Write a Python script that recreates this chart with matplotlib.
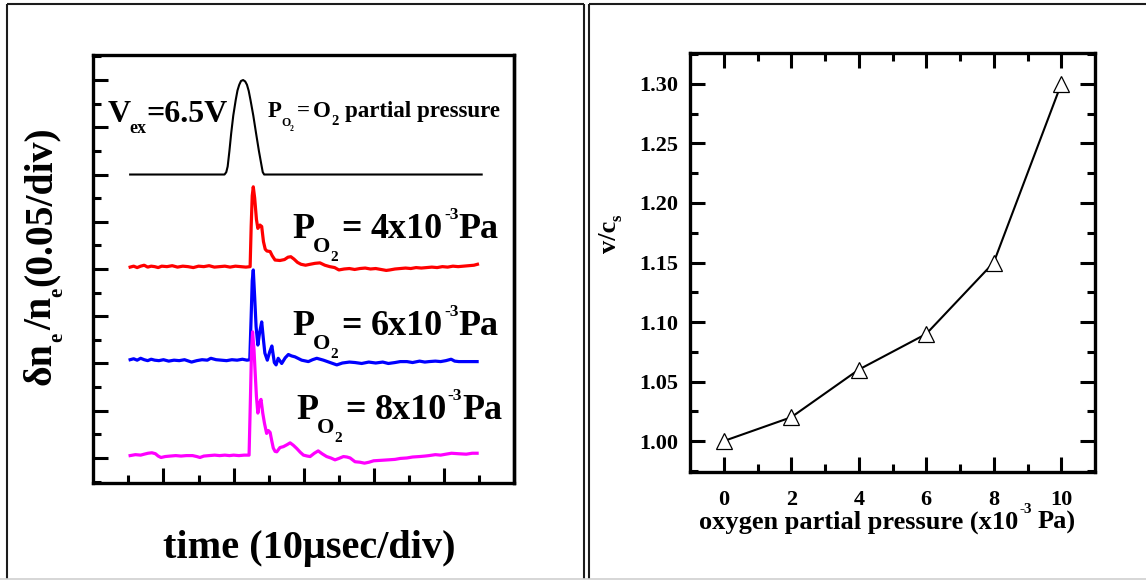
import numpy as np
import matplotlib
matplotlib.use("Agg")
import matplotlib.pyplot as plt
from matplotlib.ticker import MultipleLocator, FixedLocator, FormatStrFormatter, NullFormatter
from matplotlib.lines import Line2D

W, H, DPI = 1146, 580, 100
plt.rcParams["font.family"] = ["Liberation Serif", "DejaVu Serif"]
plt.rcParams["font.weight"] = "bold"

# ---------------- data ----------------
# time axis in divisions (10 us/div), signal in divisions (0.05/div)
excitation = [(1.05, 6.0), (2.5, 6.0), (3.74, 6.0), (3.79, 6.05), (3.83, 6.17), (3.88, 6.5),
              (3.93, 6.87), (3.99, 7.25), (4.06, 7.58), (4.11, 7.78), (4.16, 7.9), (4.21, 7.98),
              (4.27, 8.0), (4.33, 7.97), (4.38, 7.9), (4.43, 7.77), (4.48, 7.58), (4.56, 7.25),
              (4.64, 6.87), (4.72, 6.5), (4.80, 6.17), (4.83, 6.05), (4.87, 6.0), (8.0, 6.0),
              (11.07, 6.0)]

trace_4 = [(1.05, 4.04), (1.15, 4.06), (1.25, 4.03), (1.35, 4.06), (1.45, 4.08), (1.55, 4.04),
           (1.65, 4.06), (1.75, 4.05), (1.85, 4.03), (1.95, 4.06), (2.1, 4.05), (2.25, 4.07),
           (2.4, 4.04), (2.55, 4.06), (2.7, 4.05), (2.85, 4.03), (3.0, 4.06), (3.15, 4.05),
           (3.3, 4.07), (3.45, 4.04), (3.6, 4.05), (3.75, 4.06), (3.9, 4.04), (4.05, 4.06),
           (4.2, 4.05), (4.35, 4.04), (4.47, 4.05), (4.50, 4.9), (4.53, 5.55), (4.56, 5.74),
           (4.60, 5.5), (4.65, 5.05), (4.69, 4.86), (4.75, 4.93), (4.80, 4.90), (4.85, 4.58),
           (4.90, 4.42), (4.95, 4.38), (5.04, 4.37), (5.10, 4.28), (5.18, 4.19), (5.32, 4.18),
           (5.45, 4.20), (5.55, 4.25), (5.63, 4.26), (5.72, 4.21), (5.82, 4.14), (5.92, 4.10),
           (6.05, 4.08), (6.18, 4.10), (6.32, 4.12), (6.46, 4.13), (6.6, 4.08), (6.74, 4.05),
           (6.88, 4.03), (7.0, 3.98), (7.15, 4.00), (7.3, 4.01), (7.45, 3.99), (7.6, 4.01),
           (7.75, 4.02), (7.9, 4.00), (8.05, 4.01), (8.2, 3.99), (8.35, 3.97), (8.45, 3.98),
           (8.6, 4.00), (8.75, 4.01), (8.9, 4.02), (9.05, 4.01), (9.2, 4.03), (9.35, 4.02),
           (9.5, 4.03), (9.65, 4.04), (9.8, 4.03), (9.95, 4.05), (10.1, 4.04), (10.25, 4.06),
           (10.4, 4.05), (10.55, 4.06), (10.7, 4.07), (10.85, 4.08), (10.95, 4.10)]

trace_6 = [(1.05, 2.08), (1.15, 2.10), (1.25, 2.07), (1.35, 2.11), (1.45, 2.08), (1.55, 2.06),
           (1.65, 2.09), (1.75, 2.07), (1.87, 2.06), (2.0, 2.08), (2.15, 2.05), (2.3, 2.07),
           (2.45, 2.06), (2.6, 2.08), (2.8, 2.03), (2.95, 2.06), (3.1, 2.08), (3.25, 2.07),
           (3.35, 2.11), (3.5, 2.08), (3.65, 2.07), (3.8, 2.06), (3.95, 2.08), (4.1, 2.07),
           (4.25, 2.09), (4.38, 2.07), (4.46, 2.08), (4.50, 3.0), (4.53, 3.75), (4.56, 3.98),
           (4.60, 3.4), (4.64, 2.78), (4.69, 2.39), (4.74, 2.65), (4.80, 2.88), (4.85, 2.5),
           (4.89, 2.22), (4.96, 2.07), (5.03, 2.25), (5.09, 2.37), (5.16, 2.02), (5.21, 1.97),
           (5.27, 2.11), (5.37, 2.00), (5.47, 2.12), (5.56, 2.19), (5.65, 2.16), (5.75, 2.14),
           (5.94, 2.07), (6.13, 2.04), (6.25, 2.08), (6.37, 2.11), (6.56, 2.07), (6.75, 2.02),
           (6.94, 1.97), (7.1, 2.01), (7.3, 2.03), (7.46, 2.02), (7.65, 2.00), (7.85, 2.03),
           (8.05, 2.01), (8.25, 2.03), (8.41, 2.00), (8.6, 2.02), (8.75, 2.04), (8.94, 2.04),
           (9.1, 2.02), (9.3, 2.05), (9.45, 2.03), (9.57, 2.04), (9.75, 2.05), (9.9, 2.04),
           (10.05, 2.06), (10.2, 2.09), (10.3, 2.05), (10.42, 2.04), (10.6, 2.04), (10.8, 2.04),
           (10.94, 2.04)]

trace_8 = [(1.05, 0.05), (1.2, 0.07), (1.35, 0.06), (1.45, 0.08), (1.56, 0.10), (1.67, 0.11),
           (1.77, 0.09), (1.85, 0.04), (1.93, 0.01), (2.05, 0.03), (2.19, 0.04), (2.35, 0.05),
           (2.5, 0.04), (2.65, 0.05), (2.83, 0.05), (2.95, 0.03), (3.04, 0.01), (3.15, 0.04),
           (3.3, 0.05), (3.46, 0.06), (3.6, 0.05), (3.75, 0.06), (3.88, 0.05), (4.0, 0.06),
           (4.15, 0.05), (4.3, 0.06), (4.44, 0.06), (4.48, 1.3), (4.51, 2.3), (4.54, 2.67),
           (4.58, 2.3), (4.61, 1.86), (4.65, 1.3), (4.69, 0.95), (4.73, 1.15), (4.78, 1.24),
           (4.83, 0.95), (4.88, 0.73), (4.94, 0.52), (4.99, 0.58), (5.04, 0.54), (5.09, 0.35),
           (5.13, 0.21), (5.18, 0.14), (5.23, 0.13), (5.32, 0.22), (5.42, 0.24), (5.52, 0.28),
           (5.61, 0.32), (5.70, 0.27), (5.80, 0.20), (5.9, 0.12), (5.99, 0.06), (6.1, 0.04),
           (6.18, 0.03), (6.3, 0.10), (6.41, 0.15), (6.52, 0.09), (6.65, 0.03), (6.77, 0.0),
           (6.89, -0.04), (7.0, -0.01), (7.13, 0.03), (7.23, 0.02), (7.32, 0.0), (7.46, -0.08),
           (7.6, -0.09), (7.73, -0.11), (7.86, -0.09), (7.99, -0.06), (8.2, -0.05), (8.41, -0.04),
           (8.6, -0.03), (8.75, -0.01), (8.94, 0.0), (9.1, 0.02), (9.3, 0.03), (9.45, 0.04),
           (9.57, 0.05), (9.75, 0.07), (9.9, 0.06), (10.05, 0.08), (10.21, 0.10), (10.4, 0.09),
           (10.63, 0.08), (10.8, 0.10), (10.94, 0.10)]

trace_colors = ["#ff0000", "#0000ff", "#ff00ff"]
trace_values = ["4", "6", "8"]

# Mach number against O2 partial pressure
pressure = [0, 2, 4, 6, 8, 10]
mach = [1.00, 1.02, 1.06, 1.09, 1.15, 1.30]
mach_ticks = [1.00, 1.05, 1.10, 1.15, 1.20, 1.25, 1.30]
pressure_ticks = [0, 2, 4, 6, 8, 10]

# ---------------- figure ----------------
fig = plt.figure(figsize=(W / DPI, H / DPI), dpi=DPI)
fig.patch.set_facecolor("white")


def fx(px):
    return px / W


def fy(py):
    return 1 - py / H


def rich_text(x_px, y_px, parts, rotation=0, color="black"):
    """Chain text pieces along a baseline; parts = (text, size, gap_px, shift_px)."""
    renderer = fig.canvas.get_renderer()
    th = np.deg2rad(rotation)
    ux, uy = np.cos(th), np.sin(th)
    vx, vy = -np.sin(th), np.cos(th)
    x0, y0 = x_px, H - y_px
    pos = 0.0
    for text, size, gap, shift in parts:
        pos += gap
        X = x0 + pos * ux + shift * vx
        Y = y0 + pos * uy + shift * vy
        t = fig.text(X / W, Y / H, text, fontsize=size, rotation=rotation,
                     rotation_mode="anchor", ha="left", va="baseline", color=color,
                     fontweight="bold")
        w, _, _ = renderer.get_text_width_height_descent(text, t.get_fontproperties(), ismath=False)
        pos += w


# panel frames
frame_kw = dict(color="#1c1c1c", lw=1.5, transform=fig.transFigure, solid_capstyle="butt")
for (xa, ya, xb, yb) in [(7, 4, 7, 579), (7, 4, 584, 4), (584, 4, 584, 579),
                         (589, 4, 589, 579), (589, 4, 1146, 4)]:
    fig.add_artist(Line2D([fx(xa), fx(xb)], [fy(ya), fy(yb)], **frame_kw))
fig.add_artist(Line2D([0, 1], [fy(579), fy(579)], color="#cfcfcf", lw=1.2,
                      transform=fig.transFigure))

# ---------------- left panel: waveforms ----------------
ax1 = fig.add_axes([fx(93.3), fy(483), (514.3 - 93.3) / W, (483 - 55) / H])
ax1.set_xlim(0, 12)
ax1.set_ylim(-0.53, 8.53)

t, v = zip(*excitation)
ax1.plot(t, v, color="black", lw=1.5, solid_joinstyle="round")
for tr, col in zip([trace_4, trace_6, trace_8], trace_colors):
    t, v = zip(*tr)
    ax1.plot(t, v, color=col, lw=2.3, solid_joinstyle="round")

for s in ax1.spines.values():
    s.set_linewidth(2.4)
ax1.xaxis.set_major_locator(FixedLocator([2, 4, 6, 8, 10]))
ax1.xaxis.set_minor_locator(FixedLocator([1, 3, 5, 7, 9, 11]))
ax1.yaxis.set_major_locator(MultipleLocator(1))
ax1.yaxis.set_minor_locator(MultipleLocator(0.5))
ax1.tick_params(axis="both", which="both", direction="in", top=False, right=False,
                labelbottom=False, labelleft=False, width=2.2)
ax1.tick_params(axis="both", which="major", length=10.5)
ax1.tick_params(axis="both", which="minor", length=5.8)
sec = ax1.secondary_yaxis("right")
sec.yaxis.set_major_locator(MultipleLocator(0.5))
sec.yaxis.set_major_formatter(NullFormatter())
sec.tick_params(direction="out", length=1.5, width=1.6)
sec.spines["right"].set_linewidth(2.4)

# axis titles of the left panel
fig.text(fx(163), fy(558), "time (10\u03bcsec/div)", fontsize=29, ha="left",
         va="baseline", fontweight="bold")
rich_text(51, 385, [("\u03b4n", 28.5, 0, 0), ("e", 15, 0, -11), ("/n", 28.5, 3, 0),
                    ("e", 15, 0, -11), ("(0.05/div)", 28.5, 2, 0)], rotation=90)

# annotations inside the left panel
rich_text(107.3, 121.7, [("V", 23, 0, 0), ("ex", 13, -1, -11.5), ("=6.5V", 23, 0, 0)])
rich_text(268, 116.7, [("P", 16.5, 0, 0), ("O", 8.5, -1, -9), ("2", 5.5, 0, -14),
                       ("=", 16.5, 3, 0), ("O", 16.5, 3, 0), ("2", 10.5, 1, -8),
                       ("partial pressure", 16.5, 6, 0)])

label_positions = [(292.3, 238.3), (292.3, 335.0), (296.0, 419.3)]
for val, (lx, ly) in zip(trace_values, label_positions):
    rich_text(lx, ly, [("P", 26, 0, 0), ("O", 16, -1, -14), ("2", 11, 0, -23),
                       ("=", 26, 3, 0), (val + "x10", 26, 9, 0), ("-3", 12.5, 1, 19),
                       ("Pa", 26, 0, 0)])

# ---------------- right panel: v/cs ----------------
ax2 = fig.add_axes([fx(690), fy(472), (1095 - 690) / W, (472 - 53) / H])
ax2.plot(pressure, mach, color="black", lw=1.5, marker="^", ms=11.5,
         mfc="white", mec="black", mew=0.9)
ax2.set_xlim(-1, 11)
ax2.set_ylim(0.974, 1.326)
for s in ax2.spines.values():
    s.set_linewidth(2.4)
ax2.xaxis.set_major_locator(FixedLocator(pressure_ticks))
ax2.xaxis.set_minor_locator(FixedLocator([1, 3, 5, 7, 9]))
ax2.yaxis.set_major_locator(FixedLocator(mach_ticks))
ax2.yaxis.set_minor_locator(MultipleLocator(0.025))
ax2.yaxis.set_major_formatter(FormatStrFormatter("%.2f"))
ax2.tick_params(axis="both", which="both", direction="in", top=True, right=True, width=2.2)
ax2.tick_params(axis="both", which="major", length=10.5, labelsize=16)
ax2.tick_params(axis="both", which="minor", length=5.8)
ax2.tick_params(axis="x", which="major", pad=13)
ax2.tick_params(axis="y", which="major", pad=8.5)
for lab in ax2.get_xticklabels() + ax2.get_yticklabels():
    lab.set_fontweight("bold")

rich_text(699, 528.3, [("oxygen partial pressure (x10", 19, 0, 0), ("-3", 11, 1, 15),
                       ("Pa)", 19, 6, 0)])
rich_text(616, 253, [("v/c", 19, 0, 0), ("s", 12, 0, -6)], rotation=90)

fig.savefig("out.png", dpi=DPI, facecolor="white")
